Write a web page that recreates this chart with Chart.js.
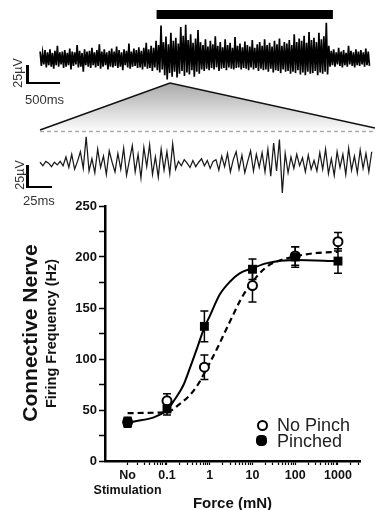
<!DOCTYPE html>
<html lang="en">
<head>
<meta charset="UTF-8">
<title>Connective nerve firing</title>
<style>
  body { margin: 0; background: #fff; }
  #wrap { position: relative; width: 375px; height: 510px; overflow: hidden; font-family: "Liberation Sans", Arial, sans-serif; color: #111; }
  canvas { position: absolute; left: 0; }
  .lbl { position: absolute; white-space: nowrap; }
  .rot { transform: translate(-50%, -50%) rotate(-90deg); }
  .bar { position: absolute; background: #000; }
</style>
</head>
<body>
<div id="wrap">
  <canvas id="trace1" width="375" height="90" style="top:0"></canvas>
  <svg width="375" height="135" style="position:absolute;left:0;top:0">
    <defs>
      <linearGradient id="g" x1="0" y1="0" x2="0" y2="1">
        <stop offset="0" stop-color="#a9a9a9"/>
        <stop offset="1" stop-color="#fafafa"/>
      </linearGradient>
    </defs>
    <polygon points="170,83 40,130 375,130 375,128" fill="url(#g)"/>
    <polyline points="40,130 170,83 375,128" fill="none" stroke="#111" stroke-width="1.6"/>
    <line x1="40" y1="131.5" x2="375" y2="131.5" stroke="#aaa" stroke-width="1.5" stroke-dasharray="4,3"/>
  </svg>
  <canvas id="trace2" width="375" height="66" style="top:132px"></canvas>
  <canvas id="myChart" width="375" height="315" style="top:195px"></canvas>

  <!-- scale bars -->
  <div class="bar" style="left:26px;top:65px;width:2.5px;height:19px"></div>
  <div class="bar" style="left:26px;top:82px;width:34px;height:2px"></div>
  <div class="lbl rot" style="left:18px;top:73px;font-size:12.5px;color:#333">25µV</div>
  <div class="lbl" style="left:25px;top:92px;font-size:13px;color:#333">500ms</div>
  <div class="bar" style="left:26px;top:165px;width:2.5px;height:23px"></div>
  <div class="bar" style="left:26px;top:186px;width:26px;height:2px"></div>
  <div class="lbl rot" style="left:20px;top:175px;font-size:12.5px;color:#333">25µV</div>
  <div class="lbl" style="left:23px;top:193px;font-size:13px;color:#333">25ms</div>

  <div class="lbl rot" style="left:30px;top:333px;font-size:21px;font-weight:bold">Connective Nerve</div>

  <div style="position:absolute;left:257px;top:420px;width:7px;height:7px;border:2px solid #000;border-radius:50%;background:#fff"></div>
  <div class="lbl" style="left:277px;top:415px;font-size:18px;line-height:20px;color:#222">No Pinch</div>
  <div style="position:absolute;left:256px;top:435px;width:11px;height:11px;border-radius:40%;background:#000"></div>
  <div class="lbl" style="left:277px;top:431px;font-size:18px;line-height:20px;color:#222">Pinched</div>
</div>

<script src="https://cdn.jsdelivr.net/npm/chart.js"></script>
<script>
// --- raw recording, top trace: upper / lower deflection (µV) every 37.5 ms ---
const trace1Step = 37.5;
const trace1High = [9,7,11,8,12,7,10,17,8,9, 11,7,13,9,8,18,10,7,12,9,
  10,14,8,11,19,9,12,8,10,13, 9,16,11,8,12,10,20,9,13,11,
  15,10,14,21,12,17,14,24,18,45, 22,30,19,35,24,28,20,43,31,46,
  25,33,21,27,39,22,18,26,16,24, 19,30,17,22,15,26,18,21,14,29,
  17,20,15,23,18,16,25,14,19,22, 17,26,18,21,16,24,19,27,17,22,
  20,25,18,33,22,27,24,31,21,36, 25,28,22,35,26,30,49,17,10,12,
  8,14,9,11,7,17,10,8,12,9, 11,8,13,9];
const trace1Low = [-11,-9,-13,-10,-12,-15,-10,-12,-9,-14, -12,-10,-16,-11,-9,-13,-12,-19,-10,-12,
  -14,-10,-13,-11,-15,-12,-10,-16,-12,-13, -11,-14,-12,-17,-10,-13,-15,-12,-11,-14,
  -13,-16,-12,-15,-14,-18,-13,-17,-20,-16, -24,-30,-21,-26,-19,-27,-22,-18,-25,-20,
  -23,-17,-26,-19,-22,-16,-18,-15,-17,-14, -16,-13,-18,-15,-14,-17,-13,-15,-16,-14,
  -13,-16,-14,-15,-17,-13,-16,-14,-18,-15, -17,-16,-19,-15,-20,-17,-18,-21,-16,-19,
  -18,-22,-19,-21,-17,-23,-20,-24,-19,-22, -21,-18,-24,-20,-22,-19,-23,-12,-10,-12,
  -9,-11,-13,-10,-12,-9,-11,-13,-10,-11, -9,-12,-10,-11];
const stimulusMs = [1770, 4450];

// --- expanded trace (µV every 3 ms) ---
const trace2Step = 3;
const trace2 = [2,-2,3,1,-3,2,-1,3,
  -2,8,-4,11,-6,3,14,
  -5,31,
  -8,6,-10,17,-4,9,-12,15,2,-9,12,
  -6,18,-13,4,21,-9,11,-16,19,-3,22,-12,8,-15,17,-7,14,
  -11,23,
  -6,3,-2,5,1,-4,4,-3,2,6,-2,4,-5,3,5,
  -7,9,-3,12,-9,5,14,-6,10,-10,3,15,-8,11,-4,13,-9,
  17,-14,24,-8,28,-33,12,-10,
  8,-5,11,-2,7,-9,10,-6,4,-8,
  13,-6,17,-11,6,-13,14,-4,11,-12,18,-7,9,-10,16,-5,12,-9,14];

// --- force response ---
const forceTicks = [0.012, 0.1, 1, 10, 100, 1000];
const forceTickLabels = [['No', 'Stimulation'], '0.1', '1', '10', '100', '1000'];
const measuredForce = [0.012, 0.1, 0.75, 10, 100, 1000];
const noPinchHz = [38, 59, 92, 172, 201, 215];
const noPinchSem = [4, 7, 12, 16, 9, 9];
const pinchedHz = [38, 51, 132, 188, 200, 196];
const pinchedSem = [5, 6, 15, 10, 10, 12];
const pinchedFitForce = [0.012, 0.1, 0.15, 0.24, 0.35, 0.53, 0.75, 1, 1.7, 3, 5, 10, 22, 100, 1000];
const pinchedFitHz = [37, 50, 60, 74, 92, 113, 131, 142, 163, 176, 184, 189, 194, 197, 196];
const noPinchFitForce = [0.012, 0.1, 0.2, 0.35, 0.53, 0.77, 1, 1.56, 2.3, 3.5, 5.1, 7.9, 12.7, 19.6, 30, 110, 324, 1000];
const noPinchFitHz = [47, 48, 56, 65, 75, 87, 96, 112, 127, 143, 157, 170, 181, 189, 194, 201, 204, 205];

Chart.defaults.font.family = '"Liberation Sans", Arial, sans-serif';
Chart.defaults.color = '#111';
Chart.defaults.animation = false;

const quiet = { legend: { display: false }, tooltip: { enabled: false } };

// top trace: alternate upper and lower deflections
const zig = [];
trace1High.forEach((v, i) => {
  zig.push({ x: i * trace1Step, y: v }, { x: i * trace1Step + trace1Step / 2, y: trace1Low[i] });
});
new Chart(document.getElementById('trace1'), {
  type: 'scatter',
  data: { datasets: [
    { data: zig, showLine: true, pointRadius: 0, borderWidth: 1.7, borderColor: '#000', tension: 0 },
    { data: stimulusMs.map(t => ({ x: t, y: 60.5 })), showLine: true, pointRadius: 0, borderColor: '#000', borderWidth: 9, borderCapStyle: 'butt' }
  ] },
  options: {
    responsive: false, devicePixelRatio: 1, plugins: quiet,
    layout: { padding: 0 },
    scales: { x: { type: 'linear', display: false, min: -610, max: 5090 },
              y: { type: 'linear', display: false, min: -44.5, max: 80.6 } }
  }
});

// expanded trace
new Chart(document.getElementById('trace2'), {
  type: 'scatter',
  data: { datasets: [
    { data: trace2.map((v, i) => ({ x: i * trace2Step, y: v })), showLine: true, pointRadius: 0, borderColor: '#1a1a1a', borderWidth: 1.25, tension: 0 }
  ] },
  options: {
    responsive: false, devicePixelRatio: 1, plugins: quiet,
    layout: { padding: 0 },
    scales: { x: { type: 'linear', display: false, min: -41.6, max: 348.4 },
              y: { type: 'linear', display: false, min: -38.8, max: 36.5 } }
  }
});

// error bars drawn through the chart scales
const errorBars = {
  id: 'errorBars',
  beforeDatasetsDraw(chart) {
    const { ctx, scales: { x, y } } = chart;
    chart.data.datasets.forEach(ds => {
      if (!ds.errors) return;
      ctx.save();
      ctx.strokeStyle = '#000';
      ctx.lineWidth = 1.5;
      ds.data.forEach((p, i) => {
        const px = x.getPixelForValue(p.x);
        const top = y.getPixelForValue(p.y + ds.errors[i]);
        const bot = y.getPixelForValue(p.y - ds.errors[i]);
        ctx.beginPath();
        ctx.moveTo(px, top); ctx.lineTo(px, bot);
        ctx.moveTo(px - 4, top); ctx.lineTo(px + 4, top);
        ctx.moveTo(px - 4, bot); ctx.lineTo(px + 4, bot);
        ctx.stroke();
      });
      ctx.restore();
    });
  }
};

const minorTicks = [];
[0.01, 0.1, 1, 10, 100, 1000].forEach(d => {
  for (let k = 2; k <= 9; k++) if (d * k < 3200 && d * k > 0.012) minorTicks.push(+(d * k).toPrecision(3));
});

new Chart(document.getElementById('myChart'), {
  type: 'scatter',
  data: {
    datasets: [
      { label: 'Pinched fit', data: pinchedFitForce.map((f, i) => ({ x: f, y: pinchedFitHz[i] })),
        showLine: true, pointRadius: 0, borderColor: '#000', borderWidth: 2, cubicInterpolationMode: 'monotone', order: 3 },
      { label: 'No Pinch fit', data: noPinchFitForce.map((f, i) => ({ x: f, y: noPinchFitHz[i] })),
        showLine: true, pointRadius: 0, borderColor: '#000', borderWidth: 2.2, borderDash: [6, 4], cubicInterpolationMode: 'monotone', order: 2 },
      { label: 'No Pinch', data: measuredForce.map((f, i) => ({ x: f, y: noPinchHz[i] })), errors: noPinchSem,
        pointStyle: 'circle', pointRadius: 4.5, pointBorderWidth: 2, pointBorderColor: '#000', pointBackgroundColor: '#fff', order: 1 },
      { label: 'Pinched', data: measuredForce.map((f, i) => ({ x: f, y: pinchedHz[i] })), errors: pinchedSem,
        pointStyle: 'rect', pointRadius: 6.3, pointBorderWidth: 0, pointBackgroundColor: '#000', order: 0 }
    ]
  },
  options: {
    responsive: false, devicePixelRatio: 1,
    plugins: quiet,
    layout: { padding: { top: 11, right: 15, left: 0, bottom: 0 } },
    scales: {
      x: {
        type: 'logarithmic', min: 0.00355, max: 3273, bounds: 'data',
        afterBuildTicks: s => { s.ticks = forceTicks.concat(minorTicks).sort((a, b) => a - b).map(v => ({ value: v })); },
        afterFit: s => { s.height = 49; },
        border: { color: '#000', width: 2.5 },
        grid: { drawOnChartArea: false, tickLength: 4, tickWidth: 1.2, tickColor: '#000' },
        ticks: {
          autoSkip: false, maxRotation: 0, padding: 3,
          font: { size: 12.5, weight: 'bold' }, color: '#111',
          callback: v => { const i = forceTicks.indexOf(v); return i < 0 ? '' : forceTickLabels[i]; }
        },
        title: { display: true, text: 'Force (mN)', font: { size: 15, weight: 'bold' }, padding: { top: 0, bottom: -3 } }
      },
      y: {
        min: 0, max: 250,
        afterFit: s => { s.width = 105; },
        border: { color: '#000', width: 2.5 },
        grid: { drawOnChartArea: false, tickLength: 6, tickWidth: 1.5, tickColor: '#000' },
        ticks: { stepSize: 25, padding: 2, font: { size: 13, weight: 'bold' }, color: '#111',
                 callback: v => (v % 50 === 0 ? v : '') },
        title: { display: true, text: 'Firing Frequency (Hz)', font: { size: 14.5, weight: 'bold' }, padding: { top: 43, bottom: 0 } }
      }
    }
  },
  plugins: [errorBars]
});
</script>
</body>
</html>
